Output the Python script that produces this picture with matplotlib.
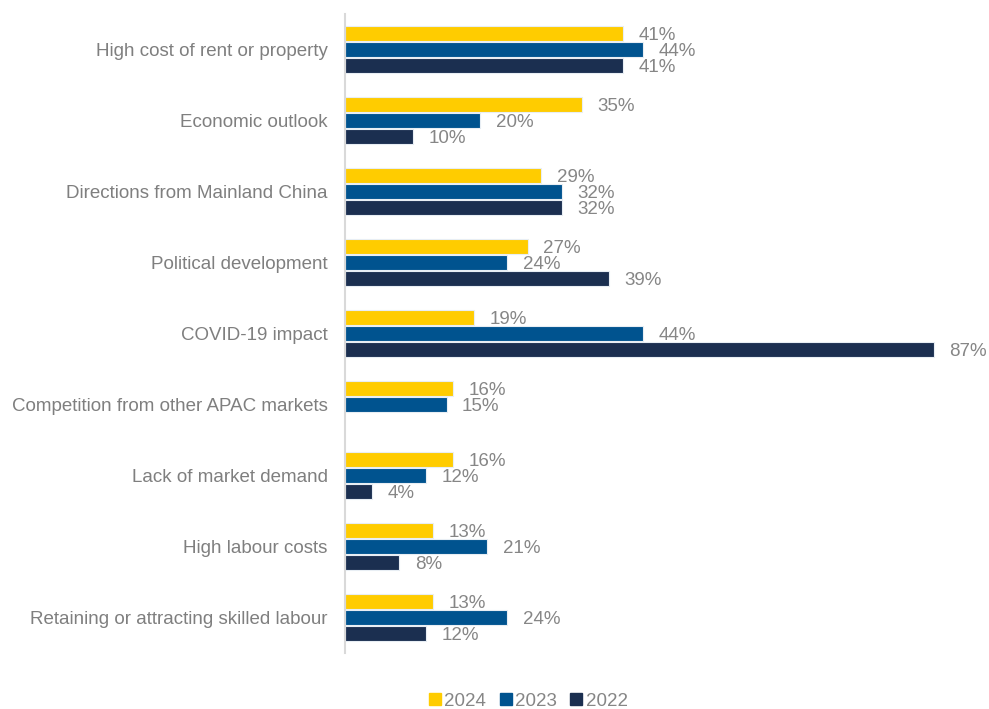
import matplotlib
matplotlib.use("Agg")
import matplotlib.pyplot as plt
import numpy as np
from matplotlib.lines import Line2D

categories = ["High cost of rent or property", "Economic outlook", "Directions from Mainland China",
              "Political development", "COVID-19 impact", "Competition from other APAC markets",
              "Lack of market demand", "High labour costs", "Retaining or attracting skilled labour"]
years = ["2024", "2023", "2022"]
v2024 = [41, 35, 29, 27, 19, 16, 16, 13, 13]
v2023 = [44, 20, 32, 24, 44, 15, 12, 21, 24]
v2022 = [41, 10, 32, 39, 87, None, 4, 8, 12]
colors = ["#FFCC00", "#00538F", "#1B2F50"]

plt.rcParams['font.family'] = ['Liberation Sans', 'DejaVu Sans']
fig = plt.figure(figsize=(9.89, 7.09), dpi=100)
ax = fig.add_axes([345/989, 56/709, 644/989, 639/709])

y = np.arange(len(categories))
pitch = 16/71
h = 15/71
tcol = "#868686"
fs = 13.5
for i, (vals, c) in enumerate(zip([v2024, v2023, v2022], colors)):
    off = (i - 1) * pitch
    for j, v in enumerate(vals):
        if v is None:
            continue
        ax.barh(y[j] + off, v, height=h, color=c, edgecolor="#E8EEF4", linewidth=0.8)
        ax.text(v + 2.3, y[j] + off + 0.035, f"{v}%", va="center", ha="left", fontsize=fs, color=tcol)

ax.set_xlim(0, 644/6.77)
ax.set_ylim(len(categories) - 0.5, -0.5)
ax.set_yticks(y)
ax.set_yticklabels(categories, fontsize=fs, color="#7F7F7F")
ax.tick_params(axis="y", length=0, pad=12.5)
ax.set_xticks([])
for s in ["top", "right", "bottom"]:
    ax.spines[s].set_visible(False)
ax.spines["left"].set_color("#D9D9D9")
ax.spines["left"].set_linewidth(1.5)

handles = [Line2D([0], [0], marker="s", linestyle="none", markersize=8, markerfacecolor=c,
                  markeredgecolor=c) for c in colors]
fig.legend(handles, years, loc="center", bbox_to_anchor=(527/989, 1 - 701/709), ncol=3,
           frameon=False, fontsize=fs, labelcolor=tcol, handletextpad=0.05,
           columnspacing=0.6, handlelength=0.9)

fig.savefig("out.png", dpi=100)
